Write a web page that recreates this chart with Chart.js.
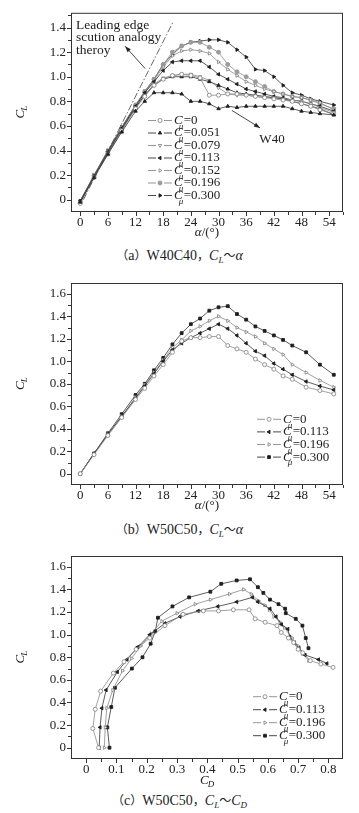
<!DOCTYPE html>
<html>
<head>
<meta charset="utf-8">
<script src="https://cdn.jsdelivr.net/npm/chart.js@4.4.1/dist/chart.umd.min.js"></script>
<style>
  html, body { margin: 0; padding: 0; background: #fff; }
  body { width: 359px; height: 813px; position: relative; overflow: hidden;
         font-family: "Liberation Serif", "Noto Sans CJK SC", serif; color: #222; }
  canvas { position: absolute; left: 0; }
  .cap { position: absolute; left: 0; width: 359px; text-align: center;
         font-size: 14px; line-height: 16px; white-space: nowrap; }
  .cap .cjk { font-family: "Noto Sans CJK SC", sans-serif; font-size: 12px; }
  .cap sub { font-size: 9px; vertical-align: -3px; line-height: 0; }
</style>
</head>
<body>
<canvas id="chartA" width="359" height="245" style="top:0px"></canvas>
<div class="cap" style="top:247px"><span class="cjk">（</span>a<span class="cjk">）</span>W40C40<span class="cjk">，</span><i>C</i><sub><i>L</i></sub><span class="cjk">～</span><i>α</i></div>

<canvas id="chartB" width="359" height="250" style="top:265px"></canvas>
<div class="cap" style="top:521px"><span class="cjk">（</span>b<span class="cjk">）</span>W50C50<span class="cjk">，</span><i>C</i><sub><i>L</i></sub><span class="cjk">～</span><i>α</i></div>

<canvas id="chartC" width="359" height="250" style="top:540px"></canvas>
<div class="cap" style="top:792px"><span class="cjk">（</span>c<span class="cjk">）</span>W50C50<span class="cjk">，</span><i>C</i><sub><i>L</i></sub><span class="cjk">～</span><i>C</i><sub><i>D</i></sub></div>

<script>
// ---- (a) W40C40, CL vs alpha ----
const alphaA = [0, 3, 6, 9, 12, 14, 16, 18, 20, 22, 24, 26, 28, 30, 32, 34, 36, 38, 40, 42, 44, 46, 48, 50, 52, 55];
const clA_W40 = [-0.02, 0.18, 0.37, 0.55, 0.72, 0.80, 0.87, 0.87, 0.87, 0.86, 0.80, 0.80, 0.78, 0.74, 0.76, 0.75, 0.76, 0.76, 0.76, 0.76, 0.76, 0.74, 0.72, 0.71, 0.70, 0.69];
const clA_0   = [-0.03, 0.18, 0.37, 0.56, 0.74, 0.84, 0.93, 0.98, 1.01, 1.02, 1.01, 0.99, 0.85, 0.85, 0.86, 0.86, 0.85, 0.84, 0.83, 0.82, 0.81, 0.80, 0.78, 0.76, 0.73, 0.70];
const clA_051 = [-0.02, 0.19, 0.38, 0.57, 0.75, 0.85, 0.93, 0.98, 1.00, 1.00, 1.00, 0.98, 0.96, 0.93, 0.90, 0.87, 0.86, 0.85, 0.84, 0.83, 0.82, 0.80, 0.78, 0.76, 0.74, 0.69];
const clA_079 = [-0.02, 0.19, 0.38, 0.57, 0.75, 0.85, 0.94, 0.99, 1.01, 1.02, 1.02, 1.00, 0.97, 0.91, 0.86, 0.85, 0.85, 0.84, 0.83, 0.83, 0.82, 0.81, 0.80, 0.78, 0.75, 0.71];
const clA_113 = [-0.01, 0.19, 0.39, 0.58, 0.76, 0.87, 0.96, 1.05, 1.12, 1.13, 1.13, 1.13, 1.08, 1.02, 0.98, 0.94, 0.90, 0.88, 0.86, 0.84, 0.83, 0.81, 0.80, 0.78, 0.76, 0.72];
const clA_152 = [-0.02, 0.19, 0.39, 0.58, 0.76, 0.87, 0.97, 1.08, 1.17, 1.21, 1.22, 1.21, 1.19, 1.12, 1.06, 1.01, 0.96, 0.93, 0.90, 0.88, 0.86, 0.84, 0.83, 0.81, 0.79, 0.73];
const clA_196 = [-0.02, 0.20, 0.39, 0.58, 0.77, 0.88, 0.98, 1.10, 1.20, 1.25, 1.28, 1.28, 1.24, 1.20, 1.10, 1.04, 1.00, 0.96, 0.92, 0.88, 0.86, 0.84, 0.83, 0.81, 0.78, 0.74];
const clA_300 = [-0.01, 0.20, 0.40, 0.59, 0.77, 0.88, 0.98, 1.10, 1.18, 1.25, 1.28, 1.29, 1.30, 1.30, 1.28, 1.22, 1.16, 1.06, 1.05, 1.00, 0.93, 0.87, 0.85, 0.82, 0.80, 0.77];
// leading edge suction analogy theory line (end points)
const theoryAlpha = [0.7, 20.2];
const theoryCL = [0, 1.45];

// ---- (b)/(c) W50C50 ----
const alphaB = [0, 3, 6, 9, 12, 14, 16, 18, 20, 22, 24, 26, 28, 30, 32, 34, 36, 38, 40, 42, 44, 46, 49, 52, 55];
const clB_0   = [0.00, 0.17, 0.34, 0.50, 0.66, 0.76, 0.87, 0.97, 1.08, 1.18, 1.21, 1.21, 1.22, 1.22, 1.14, 1.11, 1.08, 1.02, 0.97, 0.93, 0.87, 0.84, 0.77, 0.74, 0.71];
const clB_113 = [0.00, 0.18, 0.35, 0.51, 0.67, 0.78, 0.89, 1.00, 1.10, 1.16, 1.21, 1.25, 1.29, 1.33, 1.29, 1.23, 1.16, 1.09, 1.05, 0.98, 0.93, 0.88, 0.82, 0.78, 0.745];
const clB_196 = [0.00, 0.18, 0.35, 0.51, 0.68, 0.79, 0.90, 1.01, 1.12, 1.19, 1.27, 1.31, 1.36, 1.40, 1.36, 1.30, 1.26, 1.22, 1.16, 1.11, 1.06, 0.97, 0.90, 0.83, 0.77];
const clB_300 = [0.00, 0.18, 0.36, 0.53, 0.70, 0.80, 0.92, 1.03, 1.15, 1.25, 1.33, 1.38, 1.45, 1.48, 1.49, 1.42, 1.37, 1.31, 1.27, 1.23, 1.19, 1.14, 1.08, 0.97, 0.88];
const cdC_0   = [0.041, 0.022, 0.030, 0.048, 0.090, 0.125, 0.165, 0.21, 0.26, 0.32, 0.387, 0.437, 0.486, 0.538, 0.558, 0.591, 0.63, 0.644, 0.668, 0.685, 0.70, 0.715, 0.74, 0.775, 0.815];
const cdC_113 = [0.043, 0.046, 0.052, 0.066, 0.103, 0.135, 0.17, 0.21, 0.26, 0.31, 0.37, 0.435, 0.497, 0.549, 0.567, 0.607, 0.627, 0.645, 0.666, 0.672, 0.688, 0.703, 0.723, 0.767, 0.795];
const cdC_196 = [0.060, 0.063, 0.068, 0.088, 0.12, 0.15, 0.18, 0.215, 0.25, 0.30, 0.36, 0.41, 0.473, 0.52, 0.545, 0.569, 0.59, 0.605, 0.62, 0.64, 0.655, 0.68, 0.70, 0.715, 0.735];
const cdC_300 = [0.077, 0.070, 0.083, 0.095, 0.151, 0.186, 0.213, 0.228, 0.237, 0.285, 0.34, 0.41, 0.446, 0.497, 0.541, 0.567, 0.585, 0.607, 0.635, 0.657, 0.659, 0.692, 0.714, 0.725, 0.734];

const SERIF = '"Liberation Serif", serif';
const BLACK = '#1e1e1e', GRAY = '#8a8a8a';

// marker styles
const ST = {
  circOpen:  { style: 'circle',   rot: 0,   bg: '#fff', bd: GRAY,  line: GRAY },
  circGray:  { style: 'circle',   rot: 0,   bg: '#9a9a9a', bd: '#9a9a9a', line: GRAY },
  triUp:     { style: 'triangle', rot: 0,   bg: BLACK, bd: BLACK, line: '#333' },
  triDownO:  { style: 'triangle', rot: 180, bg: '#fff', bd: GRAY,  line: GRAY },
  triLeft:   { style: 'triangle', rot: -90, bg: BLACK, bd: BLACK, line: '#333' },
  triRightO: { style: 'triangle', rot: 90,  bg: '#fff', bd: GRAY,  line: GRAY },
  triRight:  { style: 'triangle', rot: 90,  bg: BLACK, bd: BLACK, line: '#333' },
  square:    { style: 'rect',     rot: 0,   bg: BLACK, bd: BLACK, line: '#333' }
};

const pts = (xs, ys) => xs.map((x, i) => ({ x: x, y: ys[i] }));

function series(label, xs, ys, st) {
  return {
    label: label, data: pts(xs, ys), showLine: true, tension: 0,
    borderColor: st.line, borderWidth: 0.8,
    pointStyle: st.style, pointRotation: st.rot, pointRadius: 2,
    pointBackgroundColor: st.bg, pointBorderColor: st.bd, pointBorderWidth: 0.9
  };
}

function drawSubText(ctx, x, y, main, sub, subDy) {
  ctx.font = 'italic 13px ' + SERIF;
  ctx.fillText(main, x, y);
  const w = ctx.measureText(main).width;
  ctx.font = 'italic 9px ' + SERIF;
  ctx.fillText(sub, x + w - 1, y + subDy);
  return w;
}

function drawLegend(ctx, items, x0, y0, dy) {
  items.forEach((it, i) => {
    const y = y0 + i * dy;
    ctx.strokeStyle = it.st.line; ctx.lineWidth = 0.9;
    ctx.beginPath();
    ctx.moveTo(x0, y); ctx.lineTo(x0 + 8, y);
    ctx.moveTo(x0 + 16, y); ctx.lineTo(x0 + 24, y);
    ctx.stroke();
    ctx.fillStyle = it.st.bg; ctx.strokeStyle = it.st.bd; ctx.lineWidth = 0.9;
    Chart.helpers.drawPoint(ctx, { pointStyle: it.st.style, radius: 2, rotation: it.st.rot, borderWidth: 0.9 }, x0 + 12, y);
    ctx.fillStyle = '#222'; ctx.textAlign = 'left'; ctx.textBaseline = 'middle';
    const tx = x0 + 26;
    ctx.font = 'italic 13px ' + SERIF;
    ctx.fillText('C', tx, y);
    const cw = ctx.measureText('C').width;
    ctx.font = 'italic 9px ' + SERIF;
    ctx.fillText('μ', tx + cw - 4, y + 6);
    ctx.font = '13px ' + SERIF;
    ctx.fillText('=' + it.label, tx + cw + 1, y);
  });
}

function arrow(ctx, x1, y1, x2, y2) {
  ctx.beginPath(); ctx.moveTo(x1, y1); ctx.lineTo(x2, y2); ctx.stroke();
  const a = Math.atan2(y2 - y1, x2 - x1), L = 6, W = 2.2;
  ctx.beginPath();
  ctx.moveTo(x2, y2);
  ctx.lineTo(x2 - L * Math.cos(a) + W * Math.sin(a), y2 - L * Math.sin(a) - W * Math.cos(a));
  ctx.lineTo(x2 - L * Math.cos(a) - W * Math.sin(a), y2 - L * Math.sin(a) + W * Math.cos(a));
  ctx.closePath(); ctx.fill();
}

function makeChart(id, cfg) {
  const framePlugin = {
    id: 'frame_' + id,
    afterDraw(chart) {
      const { ctx, chartArea: a, scales: { x, y } } = chart;
      ctx.save();
      ctx.strokeStyle = '#333'; ctx.lineWidth = 1;
      ctx.strokeRect(a.left + 0.5, a.top + 0.5, a.right - a.left - 1, a.bottom - a.top - 1);
      // tick marks (outward)
      ctx.beginPath();
      cfg.xTicks.forEach(v => {
        const px = Math.round(x.getPixelForValue(v)) + 0.5;
        const major = Math.abs(v / cfg.xMajor - Math.round(v / cfg.xMajor)) < 1e-6;
        ctx.moveTo(px, a.bottom); ctx.lineTo(px, a.bottom + (major ? 4 : 3));
      });
      cfg.yTicks.forEach(v => {
        const py = Math.round(y.getPixelForValue(v)) + 0.5;
        const major = Math.abs(v / 0.2 - Math.round(v / 0.2)) < 1e-6;
        ctx.moveTo(a.left, py); ctx.lineTo(a.left - (major ? 4 : 3), py);
      });
      ctx.stroke();

      ctx.fillStyle = '#222'; ctx.textBaseline = 'middle'; ctx.textAlign = 'left';
      // y title C_L (rotated)
      ctx.save();
      ctx.translate(21, (a.top + a.bottom) / 2);
      ctx.rotate(-Math.PI / 2);
      drawSubText(ctx, -6, 0, 'C', 'L', 4);
      ctx.restore();
      // x title
      const cx = (a.left + a.right) / 2;
      if (cfg.xTitle === 'alpha') {
        ctx.font = 'italic 13px ' + SERIF; const w1 = ctx.measureText('α').width;
        ctx.font = '13px ' + SERIF; const w2 = ctx.measureText('/(°)').width;
        const sx = cx - (w1 + w2) / 2;
        ctx.font = 'italic 13px ' + SERIF; ctx.fillText('α', sx, cfg.xTitleY);
        ctx.font = '13px ' + SERIF; ctx.fillText('/(°)', sx + w1, cfg.xTitleY);
      } else {
        drawSubText(ctx, cx - 7, cfg.xTitleY, 'C', 'D', 4);
      }
      drawLegend(ctx, cfg.legend.items, cfg.legend.x, cfg.legend.y, cfg.legend.dy);
      if (cfg.extra) cfg.extra(ctx, x, y);
      ctx.restore();
    }
  };

  const yTickFmt = v => (Math.abs(v) < 1e-9 ? '0' : v.toFixed(1));
  return new Chart(document.getElementById(id), {
    type: 'scatter',
    data: { datasets: cfg.datasets },
    options: {
      responsive: false, animation: false, devicePixelRatio: 1,
      layout: { padding: { top: cfg.top, right: 16, left: 0, bottom: 0 } },
      plugins: { legend: { display: false }, tooltip: { enabled: false } },
      scales: {
        x: {
          type: 'linear', min: cfg.xMin, max: cfg.xMax,
          grid: { display: false, drawTicks: false }, border: { display: false },
          ticks: { stepSize: cfg.xMajor, includeBounds: false, autoSkip: false, maxRotation: 0, padding: 3,
                   color: '#222', font: { family: SERIF, size: 13 }, callback: cfg.xFmt },
          afterFit(s) { s.height = cfg.h - cfg.bottom; }
        },
        y: {
          type: 'linear', min: -0.1, max: cfg.yMax,
          grid: { display: false, drawTicks: false }, border: { display: false },
          ticks: { stepSize: 0.2, includeBounds: false, autoSkip: false, padding: 5,
                   color: '#222', font: { family: SERIF, size: 13 }, callback: yTickFmt },
          afterFit(s) { s.width = 71; }
        }
      }
    },
    plugins: [framePlugin]
  });
}

function range(a, b, s) { const r = []; for (let v = a; v <= b + 1e-9; v += s) r.push(Math.round(v * 1000) / 1000); return r; }

// ---------- chart (a) ----------
makeChart('chartA', {
  h: 245, top: 8, bottom: 212, xMin: -2, xMax: 57, yMax: 1.52, xMajor: 6,
  xFmt: v => String(v), xTitle: 'alpha', xTitleY: 233,
  xTicks: range(0, 57, 3), yTicks: range(0, 1.5, 0.1),
  datasets: [
    { label: 'theory', data: pts(theoryAlpha, theoryCL), showLine: true, pointRadius: 0,
      borderColor: '#444', borderWidth: 0.8, borderDash: [7, 2, 1.5, 2] },
    series('W40', alphaA, clA_W40, ST.triUp),
    series('0', alphaA, clA_0, ST.circOpen),
    series('0.051', alphaA, clA_051, ST.triUp),
    series('0.079', alphaA, clA_079, ST.triDownO),
    series('0.113', alphaA, clA_113, ST.triLeft),
    series('0.152', alphaA, clA_152, ST.triRightO),
    series('0.196', alphaA, clA_196, ST.circGray),
    series('0.300', alphaA, clA_300, ST.triRight)
  ],
  legend: { x: 148, y: 120.5, dy: 12.5, items: [
    { label: '0', st: ST.circOpen }, { label: '0.051', st: ST.triUp }, { label: '0.079', st: ST.triDownO },
    { label: '0.113', st: ST.triLeft }, { label: '0.152', st: ST.triRightO }, { label: '0.196', st: ST.circGray },
    { label: '0.300', st: ST.triRight } ] },
  extra(ctx, x, y) {
    ctx.fillStyle = '#222'; ctx.strokeStyle = '#333'; ctx.lineWidth = 0.9;
    ctx.font = '13.5px ' + SERIF; ctx.textAlign = 'left'; ctx.textBaseline = 'middle';
    ctx.fillText('Leading edge', x.getPixelForValue(-0.9), y.getPixelForValue(1.42));
    ctx.fillText('scution analogy', x.getPixelForValue(-0.9), y.getPixelForValue(1.318));
    ctx.fillText('theroy', x.getPixelForValue(-0.9), y.getPixelForValue(1.215));
    arrow(ctx, x.getPixelForValue(14.1), y.getPixelForValue(1.066), x.getPixelForValue(9.75), y.getPixelForValue(1.247));
    arrow(ctx, x.getPixelForValue(32.9), y.getPixelForValue(0.726), x.getPixelForValue(39.0), y.getPixelForValue(0.584));
    ctx.font = '13px ' + SERIF; ctx.textAlign = 'center';
    ctx.fillText('W40', x.getPixelForValue(41.6), y.getPixelForValue(0.49));
  }
});

// ---------- chart (b) ----------
const legendBC = [
  { label: '0', st: ST.circOpen }, { label: '0.113', st: ST.triLeft },
  { label: '0.196', st: ST.triRightO }, { label: '0.300', st: ST.square } ];

makeChart('chartB', {
  h: 250, top: 18, bottom: 220, xMin: -2, xMax: 57, yMax: 1.696, xMajor: 6,
  xFmt: v => String(v), xTitle: 'alpha', xTitleY: 241,
  xTicks: range(0, 57, 3), yTicks: range(0, 1.6, 0.1),
  datasets: [
    series('0', alphaB, clB_0, ST.circOpen),
    series('0.113', alphaB, clB_113, ST.triLeft),
    series('0.196', alphaB, clB_196, ST.triRightO),
    series('0.300', alphaB, clB_300, ST.square)
  ],
  legend: { x: 257, y: 154.3, dy: 12.6, items: legendBC }
});

// ---------- chart (c) ----------
makeChart('chartC', {
  h: 250, top: 16, bottom: 219, xMin: -0.05, xMax: 0.848, yMax: 1.696, xMajor: 0.1,
  xFmt: v => (Math.abs(v) < 1e-9 ? '0' : v.toFixed(1)), xTitle: 'cd', xTitleY: 241,
  xTicks: range(0, 0.848, 0.05), yTicks: range(0, 1.6, 0.1),
  datasets: [
    series('0', cdC_0, clB_0, ST.circOpen),
    series('0.113', cdC_113, clB_113, ST.triLeft),
    series('0.196', cdC_196, clB_196, ST.triRightO),
    series('0.300', cdC_300, clB_300, ST.square)
  ],
  legend: { x: 253, y: 156.7, dy: 13, items: legendBC }
});
</script>
</body>
</html>
